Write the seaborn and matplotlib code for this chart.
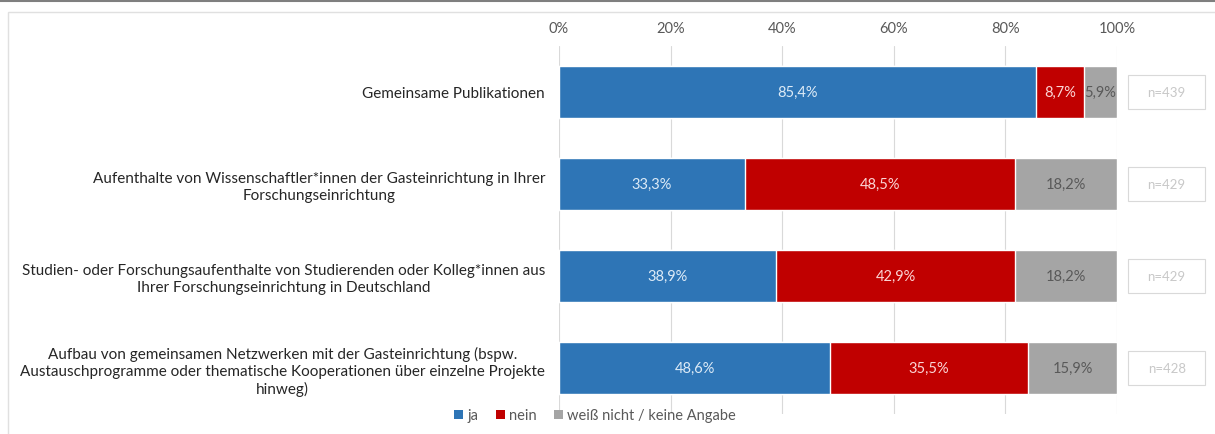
import pandas as pd
import numpy as np
import matplotlib.pyplot as plt
import seaborn as sns
from matplotlib.patches import Rectangle, Patch
from matplotlib.lines import Line2D

# Data
categories = [
    "Gemeinsame Publikationen",
    "Aufenthalte von Wissenschaftler*innen der Gasteinrichtung in Ihrer\nForschungseinrichtung",
    "Studien- oder Forschungsaufenthalte von Studierenden oder Kolleg*innen aus\nIhrer Forschungseinrichtung in Deutschland",
    "Aufbau von gemeinsamen Netzwerken mit der Gasteinrichtung (bspw.\nAustauschprogramme oder thematische Kooperationen über einzelne Projekte\nhinweg)",
]
ja = [85.4, 33.3, 38.9, 48.6]
nein = [8.7, 48.5, 42.9, 35.5]
weiss_nicht = [5.9, 18.2, 18.2, 15.9]
n_values = [439, 429, 429, 428]
series_names = ["ja", "nein", "weiß nicht / keine Angabe"]

colors = ["#2E75B6", "#C00000", "#A5A5A5"]
text_colors = ["#DDEBF7", "#FBD5D5", "#595959"]

df = pd.DataFrame({"cat": categories, "ja": ja, "nein": nein, "wn": weiss_nicht})
df["c1"] = df["ja"]
df["c2"] = df["ja"] + df["nein"]
df["c3"] = df["c2"] + df["wn"]

sns.set_style("white")
plt.rcParams["font.family"] = ["Lato", "DejaVu Sans"]

fig = plt.figure(figsize=(12.15, 4.35), dpi=100)
ax = fig.add_axes([559 / 1215, 20 / 435, 558 / 1215, 368 / 435])

# stacked bars drawn as cumulative totals, back to front
for col, c in zip(["c3", "c2", "c1"], colors[::-1]):
    sns.barplot(data=df, y="cat", x=col, color=c, orient="h", width=0.56,
                saturation=1, ax=ax, zorder=3)

# segment labels and n boxes
ytrans = ax.get_yaxis_transform()
for i, row in df.iterrows():
    starts = [0, row["c1"], row["c2"]]
    vals = [row["ja"], row["nein"], row["wn"]]
    for s, v, tc in zip(starts, vals, text_colors):
        ax.text(s + v / 2, i, f"{v:.1f}%".replace(".", ","), ha="center",
                va="center", color=tc, fontsize=10.5, zorder=5)
    ax.add_patch(Rectangle((1.089 - 0.069, i - 0.19), 0.138, 0.38, transform=ytrans,
                           fc="white", ec="#D9D9D9", lw=0.8, clip_on=False))
    ax.text(1.089, i, f"n={n_values[i]}", transform=ytrans,
            ha="center", va="center", color="#C8C8C8", fontsize=9.5)

ax.set_xlim(0, 100)
ax.set_ylim(3.5, -0.5)
ax.set_xticks(np.arange(0, 101, 20))
ax.set_xticklabels([f"{t}%" for t in range(0, 101, 20)])
ax.xaxis.tick_top()
ax.tick_params(axis="x", length=0, pad=8, labelsize=10.5, labelcolor="#595959")
ax.tick_params(axis="y", length=0, pad=10, labelsize=11, labelcolor="#262626")
for lbl in ax.get_yticklabels():
    lbl.set_multialignment("center")
    lbl.set_linespacing(1.25)
ax.set_xlabel("")
ax.set_ylabel("")
ax.grid(axis="x", color="#D9D9D9", lw=0.8, zorder=0)
ax.set_axisbelow(True)
for sp in ax.spines.values():
    sp.set_visible(False)

# legend
handles = [Patch(facecolor=c, edgecolor="none") for c in colors]
fig.legend(handles, series_names, loc="center", bbox_to_anchor=(0.49, 0.043),
           ncol=3, frameon=False, fontsize=10.5, handlelength=0.6, handleheight=0.6,
           handletextpad=0.3, columnspacing=1.2, labelcolor="#595959")

# frame decorations
fig.patches.append(Rectangle((8 / 1215, -0.05), 1.1, (435 - 13) / 435 + 0.05,
                             transform=fig.transFigure, fill=False,
                             ec="#E0E0E0", lw=1))
fig.lines.append(Line2D([0, 1], [433 / 435, 433 / 435], transform=fig.transFigure,
                        color="#7F7F7F", lw=1.5))

fig.savefig("out.png", dpi=100)
plt.close()
